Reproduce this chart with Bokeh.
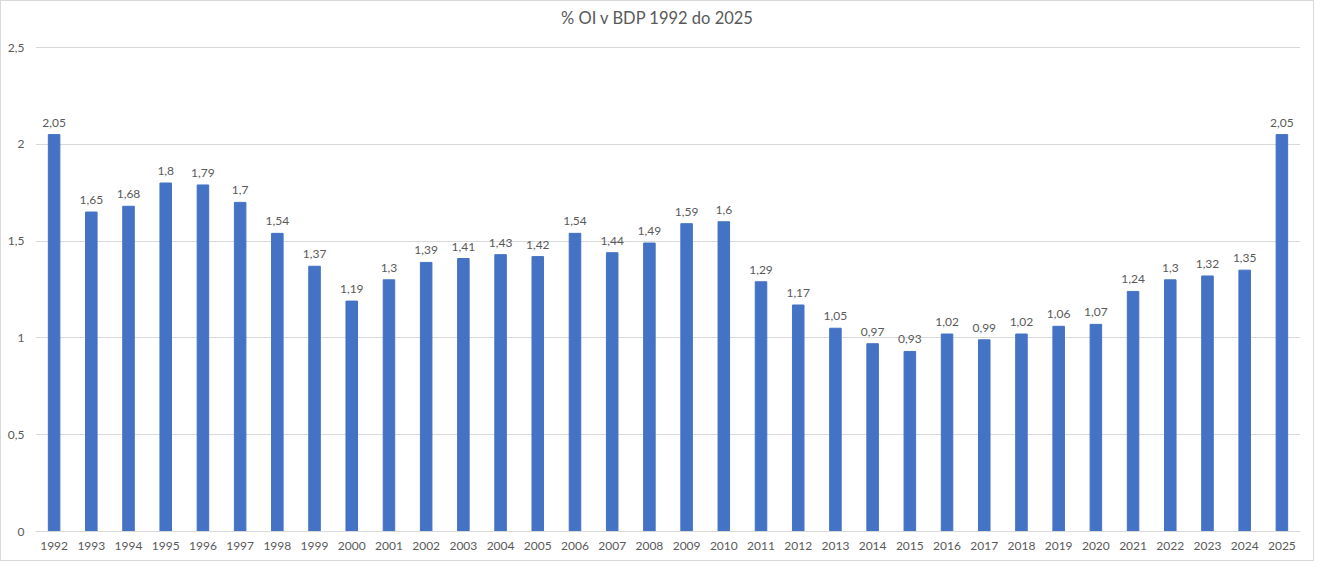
from bokeh.plotting import figure
from bokeh.models import ColumnDataSource, FactorRange, Range1d, FixedTicker, CustomJSTickFormatter, Label
from bokeh.core.properties import value
from bokeh.embed import file_html
from bokeh.resources import INLINE

years = [str(y) for y in range(1992, 2026)]
values = [2.05, 1.65, 1.68, 1.8, 1.79, 1.7, 1.54, 1.37, 1.19, 1.3, 1.39, 1.41, 1.43, 1.42,
          1.54, 1.44, 1.49, 1.59, 1.6, 1.29, 1.17, 1.05, 0.97, 0.93, 1.02, 0.99, 1.02,
          1.06, 1.07, 1.24, 1.3, 1.32, 1.35, 2.05]
labels = [str(v).replace('.', ',') for v in values]
y_ticks = [0, 0.5, 1, 1.5, 2, 2.5]
title_text = "% OI v BDP 1992 do 2025"

FONT = "Lato"
GRAY = "#595959"

src = ColumnDataSource(dict(year=years, val=values, lab=labels))

# extra headroom above 2.5 holds the chart title inside the frame
y_top = 2.5 * 523 / 484
p = figure(x_range=FactorRange(*years, range_padding=0), y_range=Range1d(0, y_top),
           width=1314, height=561, output_backend="svg", toolbar_location=None,
           min_border_left=34, min_border_right=15,
           min_border_top=7, min_border_bottom=31)

title = Label(x=16.72, y=2.65, text=title_text,
              text_align="center", text_baseline="middle", text_font=FONT,
              text_font_size="16.5px", text_color=GRAY)
p.add_layout(title)

p.vbar(x="year", top="val", width=0.31, source=src, color="#4472C4")
p.text(x="year", y="val", text="lab", source=src, text_align="center",
       text_baseline="bottom", y_offset=-8, text_font=value(FONT),
       text_font_size="12px", text_color=GRAY)

p.yaxis.ticker = FixedTicker(ticks=y_ticks)
p.yaxis.formatter = CustomJSTickFormatter(code="return tick.toString().replace('.', ',');")
for ax in (p.xaxis, p.yaxis):
    ax.major_tick_line_color = None
    ax.minor_tick_line_color = None
    ax.major_tick_out = 0
    ax.major_tick_in = 0
    ax.major_label_text_font = FONT
    ax.major_label_text_font_size = "12px"
    ax.major_label_text_color = GRAY
p.yaxis.axis_line_color = None
p.yaxis.major_label_standoff = 11
p.xaxis.axis_line_color = "#D9D9D9"
p.xaxis.major_label_standoff = 10
p.xgrid.grid_line_color = None
p.ygrid.grid_line_color = "#D9D9D9"
p.outline_line_color = None
p.styles = {"border": "1px solid #D9D9D9"}

open("out.html", "w").write(file_html(p, INLINE))
